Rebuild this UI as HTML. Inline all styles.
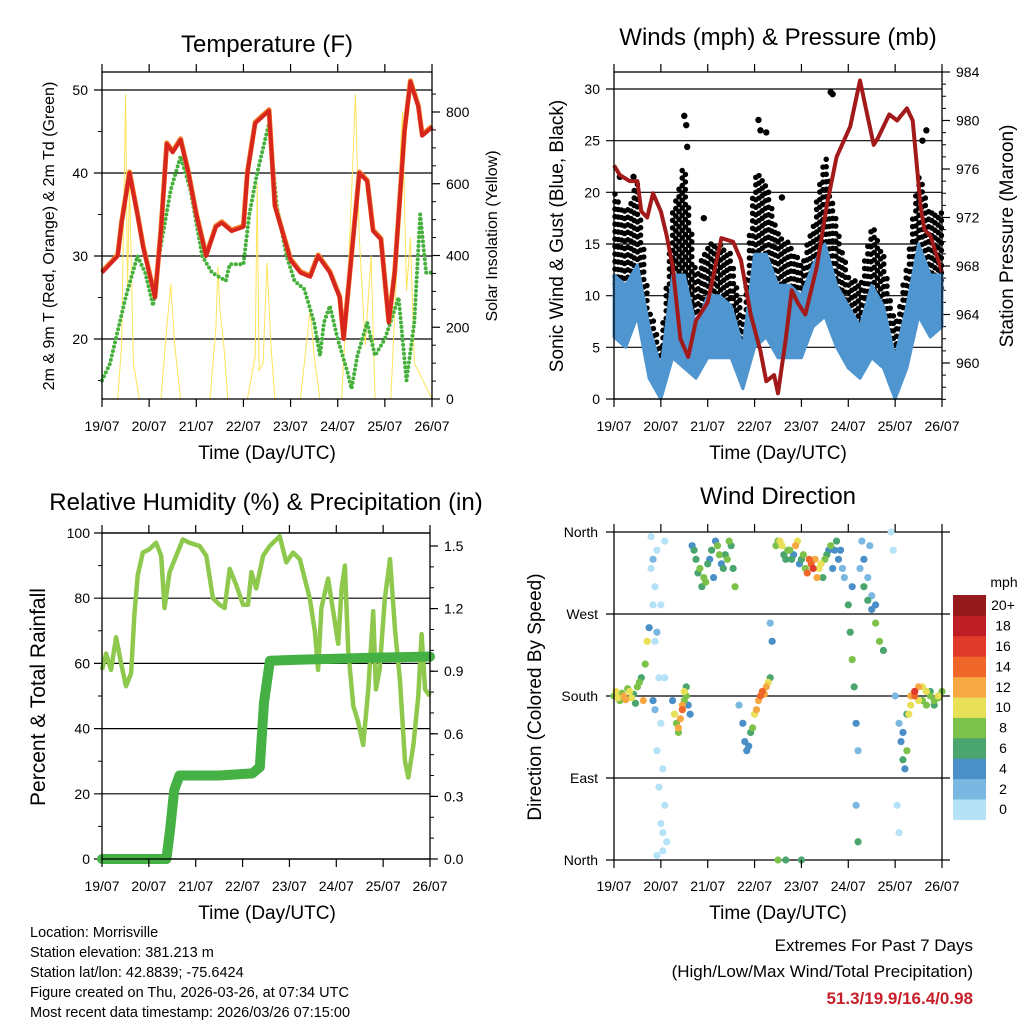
<!DOCTYPE html>
<html><head><meta charset="utf-8"><style>
html,body{margin:0;padding:0;background:#fff}
svg text{font-family:"Liberation Sans",sans-serif;fill:#000}
</style></head><body>
<svg id="root" width="1024" height="1024" viewBox="0 0 1024 1024" xmlns="http://www.w3.org/2000/svg">
<rect width="1024" height="1024" fill="#fff"/>
</svg>
<script>
// ---------- shared ----------
const dayLabels = ["19/07","20/07","21/07","22/07","23/07","24/07","25/07","26/07"];
// ---------- Temperature ----------
const tempRedT = [0,4,8,10,14,18,21,23,27,30,33,36,40,44,48,53,58,61,66,72,74,78,85,88,96,101,106,110,116,121,123,127,131,135,138,142,146,149,154,157,161,163,168];
const tempRed = [28,29,30,34,40,35,31,29,25,33,43.5,42.5,44,40,35,30,33.5,34,33,33.5,40,46,47.5,36,29.5,28,27.5,30,28,25,20,30,40,39,33,32,22,28,45,51,48,44.5,45.5];
const tdT = [0,4,7,12,18,22,26,29,35,40,45,51,56,63,65,72,75,79,85,89,94,98,103,108,111,113,116,120,125,127,130,135,139,144,151,155,159,162,165,168];
const tdGreen = [15,17,20,25,30,28,24,30,38,42,38,30,28,27,29,29,35,40,46,36,30,27,26,22,18,22,24,20,16,14,18,22,18,20,25,15,22,35,28,28];
const solarT = [0,8,10,11,12,13,14,16,19,30,33,35,37,40,55,58,59,60,62,64,74,78,79,80,82,84,86,88,101,104,106,108,111,122,125,128,129,131,134,137,139,147,150,152,153,155,157,159,168];
const solar = [0,0,150,500,850,300,600,100,0,0,200,320,150,0,0,200,370,250,150,0,0,120,600,80,100,380,150,0,0,150,250,120,0,0,300,700,850,450,150,400,0,0,350,700,800,300,450,100,0];
const tempTicks = [20,30,40,50];
const solarTicks = [0,200,400,600,800];
// ---------- Winds ----------
const windT = [0,6,12,18,24,30,36,42,48,54,60,66,72,78,84,90,96,102,108,114,120,126,132,138,144,150,156,162,168];
const windLo = [6,5,8,2,0,4,3,2,4,4,4,1,5,6,4,4,4,7,8,5,3,2,4,3,0,3,8,6,7];
const windHi = [12,11,13,7,3,12,12,7,10,10,9,5,14,14,11,11,10,13,15,11,9,7,11,9,4,9,15,12,12];
const gustLo = [11,10,12,4,1,6,8,5,8,8,7,2,12,13,8,8,7,10,14,10,6,5,10,8,2,6,14,11,10];
const gustHi = [20,18,21,9,5,18,23,12,15,15,14,8,22,21,16,15,13,17,24,17,12,11,17,14,7,13,22,18,18];
const gustOutT = [36,37,37.5,74,75,78,111,112,158,160,3,10,46,86];
const gustOut = [27.4,26.5,24.4,27,26,25.8,29.7,29.5,25,26,21.5,21.5,17.5,19.5];
const presT = [0,3,8,12,14,17,20,24,27,30,34,38,42,48,55,61,65,70,75,78,82,84,88,91,94,98,104,109,114,121,126,129,133,135,141,145,150,153,157,159,162,168];
const pres = [976.3,975.5,975,975,972.5,972,974,972.5,970.5,968,962,960.5,963.5,965,970.3,970,968.5,964,961,958.5,959,957.5,962,966,965,964,968,973,977,979.5,983.3,981,978,978.5,980.5,980,981,980,973,971,970.5,967.5];
const windTicks = [0,5,10,15,20,25,30];
const presTicks = [960,964,968,972,976,980,984];
// ---------- RH / Precip ----------
const rhT = [0,2.1,4.6,7.2,9.8,12.3,14.9,16.6,18.3,20.9,24.3,27.7,30.3,32,34.6,38,41.4,44.8,50,53.4,56.8,60.2,62.8,65.4,68.8,72.2,74.8,76.5,79,82.5,85.9,91,94.4,97.9,101.3,106.4,109,110.7,112.4,115.8,118.4,121,122.7,124.4,126.1,128.7,131.2,133.8,136.4,138.9,140.3,142.2,144.9,147.5,150.1,152.6,155.2,156.9,159.5,162,163.7,165.5,168];
const rh = [58,63,58,68,60,53,57,75,87,94,95,97,93,77,88,93,98,97,96,93,80,78,77,89,84,78,78,88,83,93,96,99,91,94,92,80,70,58,77,86,76,66,83,90,64,47,42,35,52,76,52,58,80,92,70,55,30,25,35,50,69,52,50];
const precipT = [0,33,35,37,39.7,60,77,80.8,83,86,100,120,140,168];
const precip = [0,0,0.15,0.33,0.40,0.40,0.41,0.44,0.75,0.95,0.955,0.96,0.965,0.97];
const rhTicks = [0,20,40,60,80,100];
const precipTicks = ["0.0","0.3","0.6","0.9","1.2","1.5"];
// ---------- Wind direction ----------
const dirT = [0,2,4,6,8,10,12,14,15,16,17,18,20,21,19,20,21,22,23,24,25,26,27,22,24,26,25,22,30,32,33,34,35,36,37,38,39,40,42,44,46,48,50,52,54,56,58,60,62,45,51,64,66,67,68,70,72,74,76,78,80,81,80,84,86,88,90,92,94,96,98,100,102,104,106,108,110,112,114,116,118,84,88,96,120,121,122,123,124,125,124,125,122,126,127,128,130,132,134,131,142,143,144,146,147,148,149,150,151,152,154,156,158,160,162,164,166,168,145,146,
 1,3,5,7,9,11,13,31,33,35,36,37,19,20,21,22,23,24,25,26,41,43,47,49,53,55,57,59,61,69,71,73,75,77,79,83,85,87,89,91,93,95,97,99,101,103,105,107,109,111,113,115,117,128,130,132,134,136,138,148,150,152,154,156,158,160,162,164,166];
const dirDeg = [180,178,183,176,185,182,190,200,175,215,240,255,175,165,355,330,300,250,200,150,100,60,20,340,280,200,30,5,175,150,140,155,170,185,180,170,160,345,330,320,310,325,340,350,335,320,330,345,300,300,310,170,150,130,120,140,160,175,185,190,200,240,260,350,345,330,340,335,350,330,320,330,320,310,325,330,340,320,350,340,310,0,0,0,280,250,220,190,150,120,60,20,300,320,350,330,310,290,280,345,360,340,180,150,130,110,100,120,160,180,185,175,190,170,185,175,180,185,60,30,
 185,175,180,188,178,172,195,160,145,165,175,190,320,280,240,120,80,40,10,350,340,315,305,330,345,325,335,350,320,125,145,165,180,182,195,345,350,335,340,330,345,325,335,315,325,330,320,310,335,345,340,330,320,300,285,275,260,240,230,140,160,170,180,190,175,185,180,170,178];
const dirSpd = [9,11,8,12,10,7,9,6,12,8,10,4,4,3,1,2,1,3,1,1,0,1,0,1,1,0,1,1,4,9,8,13,12,11,9,5,4,5,6,8,9,6,7,5,8,6,9,7,8,6,4,2,4,4,5,7,10,13,14,12,6,4,2,8,11,6,9,5,10,7,8,14,16,12,10,8,5,4,6,4,3,9,6,7,6,7,8,6,4,3,3,6,4,3,3,4,3,3,5,2,1,1,3,3,4,6,5,8,10,13,16,11,10,8,7,9,10,8,1,1,
 10,8,12,9,11,6,8,10,12,14,8,6,0,0,0,0,0,0,0,0,7,6,9,5,8,4,7,9,6,5,9,12,14,13,10,9,10,7,8,6,12,5,9,14,15,13,11,7,6,8,5,4,3,6,7,5,8,9,6,5,7,10,14,12,9,11,8,7,9];
const dirLabels = ["North","East","South","West","North"];
const cbLabels = ["0","2","4","6","8","10","12","14","16","18","20+"];
const cbColors = ["#b5e2f7","#7ab8e2","#4a8fc8","#4aa56e","#7cc24a","#e8e057","#f7a843","#f06628","#df3a2a","#be1e26","#961a1c"];

// ---------- drawing helpers ----------
const NS="http://www.w3.org/2000/svg";
const root=document.getElementById('root');
function mk(tag,attrs,parent){const e=document.createElementNS(NS,tag);for(const k in attrs)e.setAttribute(k,attrs[k]);(parent||root).appendChild(e);return e;}
function txt(s,x,y,size,anchor,parent,extra){const e=mk('text',Object.assign({x:x,y:y,'font-size':size,'text-anchor':anchor||'middle'},extra||{}),parent);e.textContent=s;return e;}
function lin(d0,d1,r0,r1){return v=>r0+(v-d0)/(d1-d0)*(r1-r0);}
function pathFrom(xs,ys){return xs.map((x,i)=>(i?'L':'M')+x.toFixed(1)+','+ys[i].toFixed(1)).join('');}
function interp(ts,vs,t){for(let i=1;i<ts.length;i++){if(t<=ts[i]){const f=(t-ts[i-1])/(ts[i]-ts[i-1]);return vs[i-1]+f*(vs[i]-vs[i-1]);}}return vs[vs.length-1];}

function frame(g,L,R,T,B){
  mk('rect',{x:L,y:T,width:R-L,height:B-T,fill:'none',stroke:'#000','stroke-width':1.3},g);
}
function xAxis(g,L,R,B,T,yLab){
  const xs=lin(0,7,L,R);
  dayLabels.forEach((d,i)=>{
    const x=xs(i);
    const tk=mk('line',{x1:x,x2:x,y1:B,y2:B+8,stroke:'#000','stroke-width':1.2},g);
    
    mk('line',{x1:x,x2:x,y1:T,y2:T-8,stroke:'#000','stroke-width':1.2},g);
    const t=txt(d,x,yLab,14,'middle',g);
    
    
  });
}

// ---------- Panel 1: Temperature ----------
(function(){
  const L=102,R=432,T=72,B=399;
  const g=mk('g',{});
  
  
  const xs=lin(0,168,L,R), ys=lin(20,50,339,90), ss=lin(0,800,399,112);
  tempTicks.forEach(v=>{
    mk('line',{x1:L-8,x2:R,y1:ys(v),y2:ys(v),stroke:'#000','stroke-width':1.2},g);
    const t=txt(String(v),L-14,ys(v)+5,14,'end',g);
    
    
  });
  for(let v=15;v<=50;v+=5){if(v%10)mk('line',{x1:L-4,x2:L,y1:ys(v),y2:ys(v),stroke:'#000'},g);}
  solarTicks.forEach(v=>{
    mk('line',{x1:R,x2:R+8,y1:ss(v),y2:ss(v),stroke:'#000','stroke-width':1.2},g);
    const t=txt(String(v),R+14,ss(v)+5,14,'start',g);
    
    
  });
  for(let v=50;v<900;v+=50){if(v%200)mk('line',{x1:R,x2:R+4,y1:ss(v),y2:ss(v),stroke:'#000'},g);}
  const sol=mk('path',{d:pathFrom(solarT.map(xs),solar.map(ss)),fill:'none',stroke:'#fde45a','stroke-width':1},g);
  
  const td=mk('path',{d:pathFrom(tdT.map(xs),tdGreen.map(ys)),fill:'none',stroke:'#45b03c','stroke-width':4,'stroke-dasharray':'0 4.5','stroke-linecap':'round'},g);
  
  const or=mk('path',{d:pathFrom(tempRedT.map(xs),tempRed.map(v=>ys(v)-1)),fill:'none',stroke:'#f4822a','stroke-width':5,'stroke-linejoin':'round'},g);
  
  const rd=mk('path',{d:pathFrom(tempRedT.map(xs),tempRed.map(ys)),fill:'none',stroke:'#d7261e','stroke-width':4,'stroke-linejoin':'round'},g);
  
  frame(g,L,R,T,B);
  xAxis(g,L,R,B,T,431);
  const ti=txt('Temperature (F)',267,52,24,'middle',g);
  const xl=txt('Time (Day/UTC)',267,459,19,'middle',g);
  const yl=txt('2m & 9m T (Red, Orange) & 2m Td (Green)',0,0,16,'middle',g,{transform:'translate(54,236) rotate(-90)'});
  const yr=txt('Solar Insolation (Yellow)',0,0,16,'middle',g,{transform:'translate(497,236) rotate(-90)'});
})();

// ---------- Panel 2: Winds ----------
(function(){
  const L=614,R=942,T=72,B=399;
  const g=mk('g',{});
  
  
  const xs=lin(0,168,L,R), ys=lin(0,30,399,89), ps=lin(960,984,363,72);
  windTicks.forEach(v=>{
    mk('line',{x1:L-8,x2:R,y1:ys(v),y2:ys(v),stroke:'#000','stroke-width':1.2},g);
    const t=txt(String(v),L-14,ys(v)+5,14,'end',g);
    
    
  });
  presTicks.forEach(v=>{
    mk('line',{x1:R,x2:R+8,y1:ps(v),y2:ps(v),stroke:'#000','stroke-width':1.2},g);
    const t=txt(String(v),R+14,ps(v)+5,14,'start',g);
    
    
  });
  for(let v=957;v<984;v++){if(v%4)mk('line',{x1:R,x2:R+4,y1:ps(v),y2:ps(v),stroke:'#000'},g);}
  const gg=mk('g',{},g);
  
  
  let k=0;
  for(let x=L+1;x<R;x+=3.2){
    const t=(x-L)/(R-L)*168;
    const lo=interp(windT,gustLo,t), hi=interp(windT,gustHi,t);
    const off=(k++%3)*2.3;
    const ln=mk('line',{x1:x,x2:x,y1:ys(hi)+off,y2:ys(lo),stroke:'#000','stroke-width':5.5,'stroke-linecap':'round','stroke-dasharray':'0 7.5'},gg);
    
    
  }
  gustOutT.forEach((t,i)=>{
    const c=mk('circle',{cx:xs(t),cy:ys(gustOut[i]),r:3.2,fill:'#000'},g);
    
    
  });
  const xsT=windT.map(xs);
  const wb=mk('path',{d:pathFrom(xsT,windHi.map(ys))+pathFrom(xsT.slice().reverse(),windLo.slice().reverse().map(ys)).replace('M','L')+'Z',fill:'#4f95d0',stroke:'#4f95d0','stroke-width':3,'stroke-linejoin':'round'},g);
  
  const pl=mk('path',{d:pathFrom(presT.map(xs),pres.map(ps)),fill:'none',stroke:'#a31a1a','stroke-width':4,'stroke-linejoin':'round'},g);
  
  frame(g,L,R,T,B);
  xAxis(g,L,R,B,T,431);
  const ti=txt('Winds (mph) & Pressure (mb)',778,45,24,'middle',g);
  const xl=txt('Time (Day/UTC)',778,459,19,'middle',g);
  const yl=txt('Sonic Wind & Gust (Blue, Black)',0,0,19,'middle',g,{transform:'translate(563,236) rotate(-90)'});
  const yr=txt('Station Pressure (Maroon)',0,0,19,'middle',g,{transform:'translate(1013,236) rotate(-90)'});
})();

// ---------- Panel 3: RH ----------
(function(){
  const L=102,R=430,T=533,B=859;
  const g=mk('g',{});
  
  
  const xs=lin(0,168,L,R), ys=lin(0,100,859,533), ps=lin(0,1.5,859,546);
  rhTicks.forEach(v=>{
    mk('line',{x1:L-8,x2:R,y1:ys(v),y2:ys(v),stroke:'#000','stroke-width':1.2},g);
    const t=txt(String(v),L-12,ys(v)+5,14,'end',g);
    
    
  });
  for(let v=10;v<100;v+=20)mk('line',{x1:L-4,x2:L,y1:ys(v),y2:ys(v),stroke:'#000'},g);
  precipTicks.forEach(s=>{
    const v=parseFloat(s);
    mk('line',{x1:R,x2:R+8,y1:ps(v),y2:ps(v),stroke:'#000','stroke-width':1.2},g);
    const t=txt(s,R+14,ps(v)+5,14,'start',g);
    
    
  });
  for(let v=0.1;v<1.55;v+=0.1){mk('line',{x1:R,x2:R+4,y1:ps(v),y2:ps(v),stroke:'#000'},g);}
  const rl=mk('path',{d:pathFrom(rhT.map(xs),rh.map(ys)),fill:'none',stroke:'#8ec94e','stroke-width':4.5,'stroke-linejoin':'round'},g);
  
  const pl=mk('path',{d:pathFrom(precipT.map(xs),precip.map(ps)),fill:'none',stroke:'#45b145','stroke-width':10,'stroke-linejoin':'round','stroke-linecap':'round'},g);
  
  frame(g,L,R,T,B);
  xAxis(g,L,R,B,T,891);
  const ti=txt('Relative Humidity (%) & Precipitation (in)',266,510,24,'middle',g);
  const xl=txt('Time (Day/UTC)',267,919,19,'middle',g);
  const yl=txt('Percent & Total Rainfall',0,0,21,'middle',g,{transform:'translate(45,697) rotate(-90)'});
})();

// ---------- Panel 4: Wind direction ----------
(function(){
  const L=614,R=942,T=532,B=860;
  const g=mk('g',{});
  
  
  const xs=lin(0,168,L,R), ys=lin(0,360,860,532);
  dirLabels.forEach((s,i)=>{
    const y=ys(i*90);
    mk('line',{x1:L-8,x2:R+8,y1:y,y2:y,stroke:'#000','stroke-width':1.2},g);
    const t=txt(s,L-16,y+5,14,'end',g);
    
    
  });
  const order=dirT.map((_,i)=>i).sort((a,b)=>dirSpd[a]-dirSpd[b]);
  order.forEach(i=>{
    const idx=Math.min(10,Math.floor(dirSpd[i]/2));
    const c=mk('circle',{cx:xs(dirT[i]),cy:ys(dirDeg[i]),r:3.6,fill:cbColors[idx]},g);
    
    
  });
  mk('line',{x1:L,x2:L,y1:T,y2:B,stroke:'#000','stroke-width':1.3},g);
  mk('line',{x1:R,x2:R,y1:T,y2:B,stroke:'#000','stroke-width':1.3},g);
  xAxis(g,L,R,B,T,891);
  const ti=txt('Wind Direction',778,504,24,'middle',g);
  const xl=txt('Time (Day/UTC)',778,919,19,'middle',g);
  const yl=txt('Direction (Colored By Speed)',0,0,19,'middle',g,{transform:'translate(541,697) rotate(-90)'});
  const cb=mk('g',{},g);
  
  
  const top=595,h=20.4;
  cbColors.forEach((c,i)=>{
    const y=top+(10-i)*h;
    const r=mk('rect',{x:953,y:y,width:33,height:h+0.5,fill:c},cb);
    
    
    const t=txt(cbLabels[i],1003,y+h/2+5,14,'middle',cb);
    
    
  });
  const u=txt('mph',1004,587,14,'middle',cb);
})();

// ---------- footer ----------
(function(){
  const g=mk('g',{});
  
  
  ["Location: Morrisville","Station elevation: 381.213 m","Station lat/lon: 42.8839; -75.6424","Figure created on Thu, 2026-03-26, at 07:34 UTC","Most recent data timestamp: 2026/03/26 07:15:00"].forEach((s,i)=>{
    const t=txt(s,30,937+i*20,14.5,'start',g);
    
    
  });
  const e=mk('g',{});
  
  
  const a=txt('Extremes For Past 7 Days',973,951,17,'end',e);
  const b=txt('(High/Low/Max Wind/Total Precipitation)',973,977,17,'end',e);
  const c=txt('51.3/19.9/16.4/0.98',973,1004,17,'end',e,{'font-weight':'bold',style:'fill:#c8202a'});
})();
</script>
</body></html>
